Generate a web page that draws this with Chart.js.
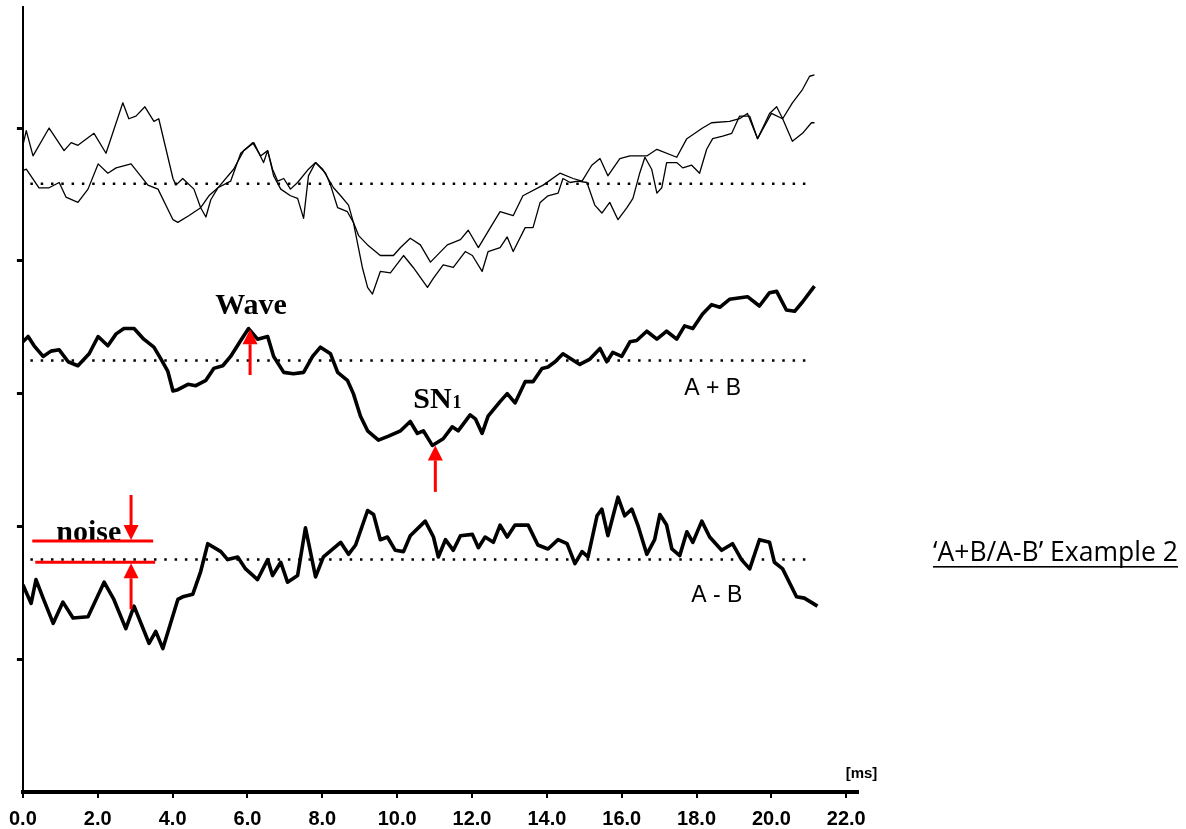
<!DOCTYPE html>
<html>
<head>
<meta charset="utf-8">
<script src="https://cdn.jsdelivr.net/npm/chart.js@4.4.1/dist/chart.umd.min.js"></script>
<style>
  html, body { margin: 0; padding: 0; background: #fff; }
  #wrap { width: 1186px; height: 829px; position: relative; }
</style>
</head>
<body>
<div id="wrap"><canvas id="myChart"></canvas></div>
<script>
// time axis in ms, amplitude in (arbitrary) divisions
const xTicksMax = 22;

// two single recordings (thin traces)
const recA_ms = [0.00,0.09,0.27,0.70,1.10,1.29,1.47,1.90,2.22,2.67,2.83,3.02,3.26,3.50,3.63,4.01,4.09,4.27,4.57,4.75,4.89,5.02,5.21,5.55,5.82,6.14,6.35,6.54,6.70,6.89,7.15,7.34,7.50,7.63,7.82,8.09,8.22,8.41,8.67,8.83,9.07,9.21,9.34,9.55,9.82,10.17,10.43,10.81,10.97,11.23,11.50,11.82,12.01,12.27,12.43,12.75,12.94,13.10,13.42,13.63,13.82,14.03,14.30,14.43,14.62,14.83,15.07,15.28,15.47,15.68,15.90,16.14,16.30,16.48,16.62,16.80,16.94,17.07,17.20,17.47,17.63,17.87,18.08,18.27,18.43,18.70,18.94,19.15,19.42,19.63,20.00,20.30,20.56,20.83,21.07,21.15];
const recA_val = [4.87,4.98,4.79,5.00,4.83,4.89,4.87,4.96,4.81,5.19,5.07,5.09,5.16,5.05,5.07,4.62,4.57,4.62,4.54,4.40,4.33,4.46,4.55,4.60,4.81,4.89,4.79,4.83,4.64,4.54,4.49,4.47,4.32,4.64,4.74,4.66,4.57,4.40,4.37,4.29,3.95,3.80,3.75,3.92,3.91,4.04,3.95,3.80,3.87,3.97,3.95,4.07,4.04,3.92,4.07,4.10,4.18,4.07,4.25,4.25,4.44,4.49,4.51,4.62,4.59,4.60,4.59,4.42,4.36,4.44,4.31,4.40,4.47,4.66,4.78,4.69,4.51,4.55,4.74,4.74,4.70,4.72,4.66,4.84,4.92,4.94,4.96,5.09,5.09,4.92,5.11,5.07,4.90,4.96,5.04,5.04];

const recB_ms = [0.00,0.09,0.43,0.70,0.97,1.15,1.47,1.74,2.01,2.27,2.49,2.89,3.34,3.61,4.01,4.14,4.43,4.75,4.97,5.21,5.63,5.90,6.17,6.43,6.54,6.67,6.81,6.97,7.15,7.34,7.63,7.82,8.01,8.30,8.49,8.70,8.83,8.97,9.21,9.55,9.90,10.09,10.35,10.62,10.89,11.34,11.69,11.90,12.17,12.49,12.75,13.10,13.36,13.90,14.35,14.70,14.94,15.20,15.42,15.63,15.95,16.22,16.67,16.94,17.47,17.74,18.16,18.40,18.88,19.15,19.36,19.63,19.95,20.14,20.30,20.56,20.83,21.02,21.15];
const recB_val = [4.68,4.69,4.55,4.55,4.59,4.48,4.44,4.54,4.73,4.66,4.70,4.73,4.57,4.54,4.31,4.29,4.34,4.40,4.49,4.55,4.69,4.83,4.89,4.74,4.83,4.69,4.60,4.62,4.54,4.59,4.69,4.74,4.69,4.55,4.49,4.42,4.29,4.19,4.12,4.04,4.04,4.10,4.17,4.12,3.99,4.12,4.16,4.23,4.10,4.25,4.37,4.34,4.49,4.57,4.66,4.62,4.60,4.72,4.77,4.64,4.77,4.79,4.79,4.84,4.78,4.92,5.00,5.04,5.05,5.07,5.11,4.92,5.11,5.16,5.07,5.19,5.29,5.39,5.40];

// A + B (thick)
const sum_ms = [0.00,0.14,0.30,0.54,0.75,0.97,1.21,1.47,1.77,2.01,2.27,2.49,2.70,2.97,3.23,3.50,3.69,3.87,4.01,4.14,4.41,4.62,4.89,5.10,5.34,5.55,5.82,6.03,6.27,6.54,6.70,6.97,7.23,7.50,7.74,7.95,8.22,8.41,8.67,8.83,9.02,9.21,9.50,9.77,10.09,10.35,10.54,10.70,10.94,11.23,11.47,11.63,11.95,12.09,12.27,12.43,12.75,12.94,13.15,13.42,13.63,13.87,14.03,14.22,14.43,14.88,15.15,15.42,15.60,15.76,16.00,16.22,16.40,16.67,16.94,17.20,17.47,17.68,17.90,18.16,18.40,18.62,18.88,19.36,19.68,19.95,20.14,20.40,20.62,20.83,21.15];
const sum_val = [3.39,3.43,3.36,3.28,3.32,3.33,3.24,3.21,3.30,3.43,3.36,3.45,3.49,3.49,3.41,3.35,3.26,3.17,3.02,3.03,3.07,3.06,3.10,3.19,3.21,3.28,3.40,3.49,3.41,3.43,3.28,3.16,3.15,3.16,3.28,3.35,3.30,3.16,3.10,3.00,2.83,2.72,2.65,2.68,2.72,2.79,2.70,2.72,2.61,2.66,2.75,2.72,2.84,2.81,2.70,2.83,2.94,3.00,2.93,3.09,3.09,3.19,3.20,3.24,3.30,3.22,3.26,3.34,3.24,3.31,3.28,3.39,3.40,3.47,3.41,3.47,3.41,3.51,3.49,3.60,3.67,3.65,3.71,3.73,3.66,3.76,3.77,3.63,3.62,3.69,3.81];

// A - B (thick)
const diff_ms = [0.00,0.22,0.35,0.54,0.81,1.07,1.34,1.74,2.17,2.43,2.75,2.97,3.37,3.55,3.74,4.14,4.27,4.54,4.75,4.94,5.29,5.47,5.74,5.95,6.27,6.54,6.67,6.89,7.07,7.34,7.55,7.82,8.03,8.49,8.70,8.89,9.21,9.37,9.55,9.74,9.95,10.17,10.35,10.75,10.97,11.10,11.29,11.50,11.69,12.01,12.17,12.35,12.57,12.75,12.94,13.15,13.50,13.76,14.03,14.30,14.54,14.75,14.94,15.10,15.34,15.47,15.63,15.90,16.08,16.27,16.43,16.67,16.88,17.02,17.20,17.34,17.55,17.74,17.90,18.14,18.35,18.67,18.96,19.20,19.42,19.68,19.95,20.08,20.30,20.67,20.88,21.23];
const diff_val = [1.56,1.42,1.60,1.46,1.27,1.43,1.31,1.32,1.58,1.45,1.23,1.40,1.12,1.21,1.08,1.45,1.47,1.49,1.66,1.87,1.81,1.75,1.77,1.68,1.60,1.75,1.63,1.73,1.58,1.63,1.99,1.62,1.77,1.88,1.79,1.86,2.12,2.09,1.90,1.92,1.82,1.81,1.93,2.04,1.92,1.77,1.90,1.82,1.93,1.94,1.84,1.92,1.88,2.01,1.92,2.01,2.01,1.86,1.83,1.90,1.87,1.72,1.81,1.77,2.08,2.13,1.93,2.22,2.08,2.13,2.01,1.79,1.90,2.09,2.01,1.83,1.78,1.96,1.88,2.04,1.92,1.82,1.87,1.75,1.68,1.90,1.88,1.73,1.68,1.47,1.46,1.40];

// dotted zero lines for each pair of traces
const baselines = [4.58, 3.25, 1.75];
const baselineSpan = [0.2, 21.0];

// annotations (data coords)
const waveMark = { x: 6.07, tip: 3.485, tail: 3.14, textY: 3.60 };
const snMark = { x: 11.02, tip: 2.61, tail: 2.26, textX: 10.43, textY: 2.89 };
const noiseMark = { x: 2.89, top: 1.89, bottom: 1.73, lineFrom: 0.25, lineTo: 3.48, textX: 0.89 };
const traceLabels = [
  { text: 'A + B', x: 18.43, y: 2.99 },
  { text: 'A - B', x: 18.54, y: 1.43 }
];

function toPoints(xs, ys) {
  return xs.map((v, i) => ({ x: v, y: ys[i] }));
}

function baselineSet(level) {
  return {
    data: baselineSpan.map(v => ({ x: v, y: level })),
    borderColor: '#000',
    borderWidth: 2.5,
    borderDash: [2.5, 7.8],
    pointRadius: 0
  };
}

function drawArrow(ctx, x, yTail, yTip) {
  const dir = yTip < yTail ? 1 : -1;   // 1 = pointing up
  const head = 15, half = 7.5;
  ctx.strokeStyle = '#ff0000';
  ctx.fillStyle = '#ff0000';
  ctx.lineWidth = 3;
  ctx.beginPath();
  ctx.moveTo(x, yTail);
  ctx.lineTo(x, yTip + dir * head);
  ctx.stroke();
  ctx.beginPath();
  ctx.moveTo(x, yTip);
  ctx.lineTo(x - half, yTip + dir * head);
  ctx.lineTo(x + half, yTip + dir * head);
  ctx.closePath();
  ctx.fill();
}

const annotations = {
  id: 'annotations',
  afterDraw(chart) {
    const { ctx, scales: { x, y } } = chart;
    ctx.save();

    // Wave
    ctx.fillStyle = '#000';
    ctx.font = 'bold 30px "Liberation Serif", "Times New Roman", serif';
    ctx.textAlign = 'center';
    ctx.textBaseline = 'alphabetic';
    ctx.fillText('Wave', x.getPixelForValue(waveMark.x) + 1, y.getPixelForValue(waveMark.textY));
    drawArrow(ctx, x.getPixelForValue(waveMark.x), y.getPixelForValue(waveMark.tail), y.getPixelForValue(waveMark.tip));

    // SN1
    ctx.fillStyle = '#000';
    ctx.textAlign = 'left';
    const snX = x.getPixelForValue(snMark.textX), snY = y.getPixelForValue(snMark.textY);
    ctx.font = 'bold 30px "Liberation Serif", "Times New Roman", serif';
    ctx.fillText('SN', snX, snY);
    const snW = ctx.measureText('SN').width;
    ctx.font = 'bold 18px "Liberation Serif", "Times New Roman", serif';
    ctx.fillText('1', snX + snW + 1, snY);
    drawArrow(ctx, x.getPixelForValue(snMark.x), y.getPixelForValue(snMark.tail), y.getPixelForValue(snMark.tip));

    // noise
    ctx.fillStyle = '#000';
    ctx.font = 'bold 30px "Liberation Serif", "Times New Roman", serif';
    ctx.fillText('noise', x.getPixelForValue(noiseMark.textX), y.getPixelForValue(noiseMark.top));
    ctx.strokeStyle = '#ff0000';
    ctx.lineWidth = 3;
    [noiseMark.top, noiseMark.bottom].forEach((lv, i) => {
      const py = y.getPixelForValue(lv);
      ctx.beginPath();
      ctx.moveTo(x.getPixelForValue(noiseMark.lineFrom) + i * 3, py);
      ctx.lineTo(x.getPixelForValue(noiseMark.lineTo) + i * 2, py);
      ctx.stroke();
    });
    const nx = x.getPixelForValue(noiseMark.x);
    drawArrow(ctx, nx, y.getPixelForValue(noiseMark.top) - 46, y.getPixelForValue(noiseMark.top) - 1);
    drawArrow(ctx, nx, y.getPixelForValue(noiseMark.bottom) + 47, y.getPixelForValue(noiseMark.bottom) + 1);

    // trace names
    ctx.fillStyle = '#000';
    ctx.font = '23px "Liberation Sans", Arial, sans-serif';
    ctx.textAlign = 'center';
    traceLabels.forEach(l => {
      ctx.fillText(l.text, x.getPixelForValue(l.x), y.getPixelForValue(l.y));
    });

    // unit
    ctx.font = 'bold 15px "Liberation Sans", Arial, sans-serif';
    ctx.fillText('[ms]', x.right + 4, y.bottom - 14);

    // caption on the right
    const caption = '\u2018A+B/A-B\u2019 Example 2';
    ctx.textAlign = 'left';
    ctx.font = '20px "Open Sans", "Noto Sans", sans-serif';
    const w20 = ctx.measureText(caption).width;
    const size = 20 * 245 / w20;
    ctx.font = size.toFixed(2) + 'px "Open Sans", "Noto Sans", sans-serif';
    ctx.fillText(caption, 933, 561);
    ctx.fillRect(933, 566, 245, 1.6);

    ctx.restore();
  }
};

const ctx = document.getElementById('myChart');

const myChart = new Chart(ctx, {
  type: 'line',
  data: {
    datasets: [
      { data: toPoints(recA_ms, recA_val), borderColor: '#000', borderWidth: 1.3, pointRadius: 0 },
      { data: toPoints(recB_ms, recB_val), borderColor: '#000', borderWidth: 1.3, pointRadius: 0 },
      { data: toPoints(sum_ms, sum_val), borderColor: '#000', borderWidth: 3.6, pointRadius: 0 },
      { data: toPoints(diff_ms, diff_val), borderColor: '#000', borderWidth: 3.6, pointRadius: 0 },
      ...baselines.map(baselineSet)
    ]
  },
  options: {
    responsive: true,
    maintainAspectRatio: false,
    animation: false,
    layout: { padding: { left: 13, right: 328.5, top: 0, bottom: 0 } },
    plugins: { legend: { display: false }, tooltip: { enabled: false } },
    elements: { line: { tension: 0, borderJoinStyle: 'round', borderCapStyle: 'butt' } },
    scales: {
      x: {
        type: 'linear',
        min: 0,
        max: 22.3,
        afterFit: s => { s.height = 37; },
        border: { color: '#000', width: 4 },
        grid: { drawOnChartArea: false, drawTicks: true, tickLength: 6, color: '#000', lineWidth: 2 },
        ticks: {
          stepSize: 2,
          includeBounds: false,
          autoSkip: false,
          maxRotation: 0,
          padding: 9,
          color: '#000',
          font: { family: '"Liberation Sans", Arial, sans-serif', size: 20, weight: 'bold' },
          callback: v => v <= xTicksMax ? v.toFixed(1) : ''
        }
      },
      y: {
        min: 0,
        max: 5.91,
        afterFit: s => { s.width = 8; },
        border: { color: '#000', width: 2 },
        grid: {
          drawOnChartArea: false,
          drawTicks: true,
          tickLength: 6,
          lineWidth: 3,
          color: c => c.tick && c.tick.value === 0 ? 'rgba(0,0,0,0)' : '#000'
        },
        ticks: { stepSize: 1, includeBounds: false, padding: 0, callback: () => '' }
      }
    }
  },
  plugins: [annotations]
});
</script>
</body>
</html>
